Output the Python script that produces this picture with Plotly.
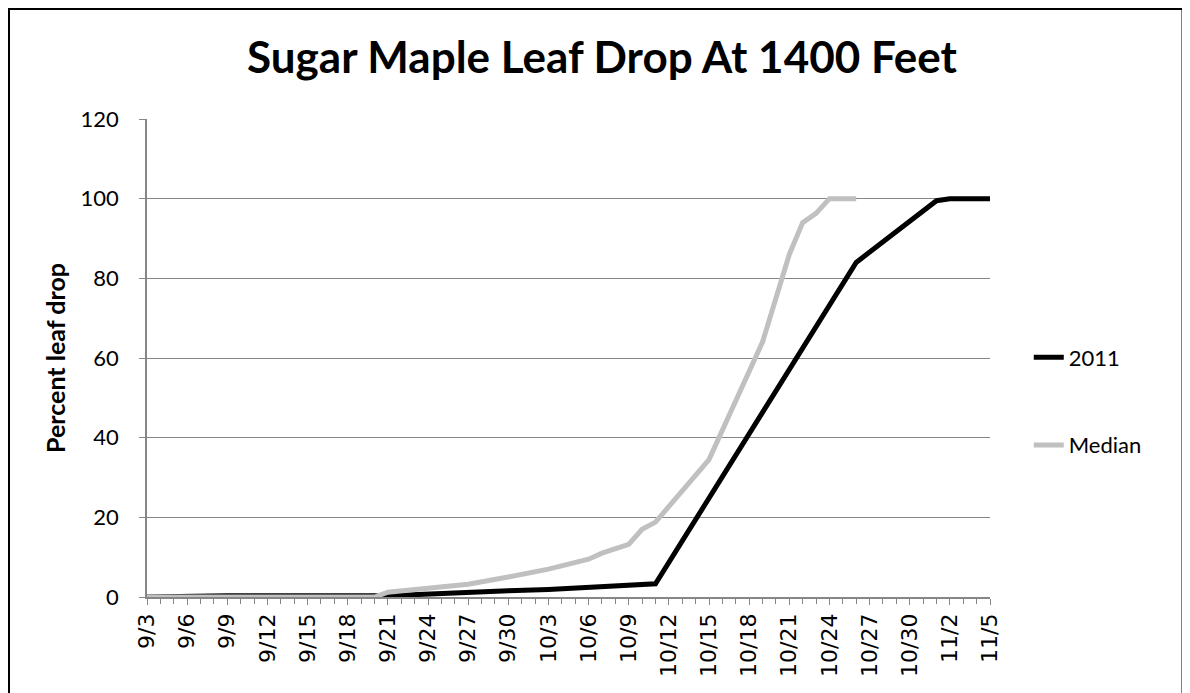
import plotly.graph_objects as go
from datetime import date

year = 2011

def to_date(s):
    m, d = s.split("/")
    return date(year, int(m), int(d)).isoformat()

# 2011 series (observation dates and percent leaf drop)
dates_2011 = ["9/3", "9/9", "9/21", "9/24", "9/27", "9/30", "10/3", "10/7",
              "10/11", "10/26", "11/1", "11/2", "11/5"]
values_2011 = [0, 0.3, 0.3, 0.8, 1.3, 1.6, 1.9, 2.7, 3.3, 84, 99.5, 100, 100]

# Median series
dates_median = ["9/3", "9/20", "9/21", "9/24", "9/27", "9/30", "10/3", "10/6",
                "10/7", "10/9", "10/10", "10/11", "10/15", "10/19", "10/21",
                "10/22", "10/23", "10/24", "10/26"]
values_median = [0, 0, 1.2, 2.2, 3.2, 5.0, 7.0, 9.5, 11.0, 13.2, 17.0, 18.8,
                 34.5, 64, 86, 94, 96.3, 100, 100]

x_start, x_end = "9/3", "11/5"
title_text = "Sugar Maple Leaf Drop At 1400 Feet"
y_title = "Percent leaf drop"

fig = go.Figure()
fig.add_trace(go.Scatter(
    x=[to_date(d) for d in dates_2011], y=values_2011, mode="lines",
    name="2011", line=dict(color="#000000", width=5), legendgroup="a"))
fig.add_trace(go.Scatter(
    x=[to_date(d) for d in dates_median], y=values_median, mode="lines",
    name="Median", line=dict(color="#C0C0C0", width=5), legendgroup="b"))

grid = "#868686"
DAY = 86400000

# page has an 8px body margin; figure sized to fit the rest of the window
W, H = 1182, 685
L, T = 139, 111
PW, PH = 843, 478

fig.update_layout(
    width=W, height=H,
    margin=dict(l=L, r=W - L - PW, t=T, b=H - T - PH),
    paper_bgcolor="white", plot_bgcolor="white",
    title=dict(text="<b>" + title_text + "</b>", font=dict(family="Lato", size=44, color="black"),
               x=(602 - 8) / W, xref="container", xanchor="center",
               y=1 - 50 / H, yref="container", yanchor="middle"),
    showlegend=True,
    legend=dict(x=1.046, xanchor="left", y=0.545, yanchor="top",
                font=dict(family="Lato", size=22, color="black"),
                tracegroupgap=56, bgcolor="rgba(0,0,0,0)"),
    xaxis=dict(
        type="date", range=[to_date(x_start), to_date(x_end)],
        tick0=to_date(x_start), dtick=3 * DAY, tickformat="%-m/%-d",
        tickangle=-90, ticks="outside", ticklen=6, tickcolor=grid,
        tickfont=dict(family="DejaVu Sans", size=22, color="black"),
        showline=True, linecolor=grid, linewidth=1.5, showgrid=False,
        minor=dict(dtick=DAY, tick0=to_date(x_start), ticks="outside",
                   ticklen=5, tickcolor=grid, showgrid=False),
        zeroline=False,
    ),
    yaxis=dict(
        range=[0, 120], dtick=20, ticks="outside", ticklen=6, tickcolor=grid,
        tickfont=dict(family="Lato", size=22, color="black"),
        ticklabelstandoff=16,
        showline=True, linecolor=grid, linewidth=1.5,
        showgrid=True, gridcolor=grid, gridwidth=1.2, zeroline=False,
        title=dict(text="<b>" + y_title + "</b>",
                   font=dict(family="Lato", size=25, color="black"), standoff=8),
    ),
)

# outer chart border
fig.add_shape(type="rect", xref="paper", yref="paper",
              x0=(0.5 - L) / PW, x1=(1175 - L) / PW,
              y0=(T + PH - 720) / PH, y1=(T + PH - 0.5) / PH,
              line=dict(color="black", width=3), fillcolor="rgba(0,0,0,0)",
              layer="below")

fig.write_html("out.html")
